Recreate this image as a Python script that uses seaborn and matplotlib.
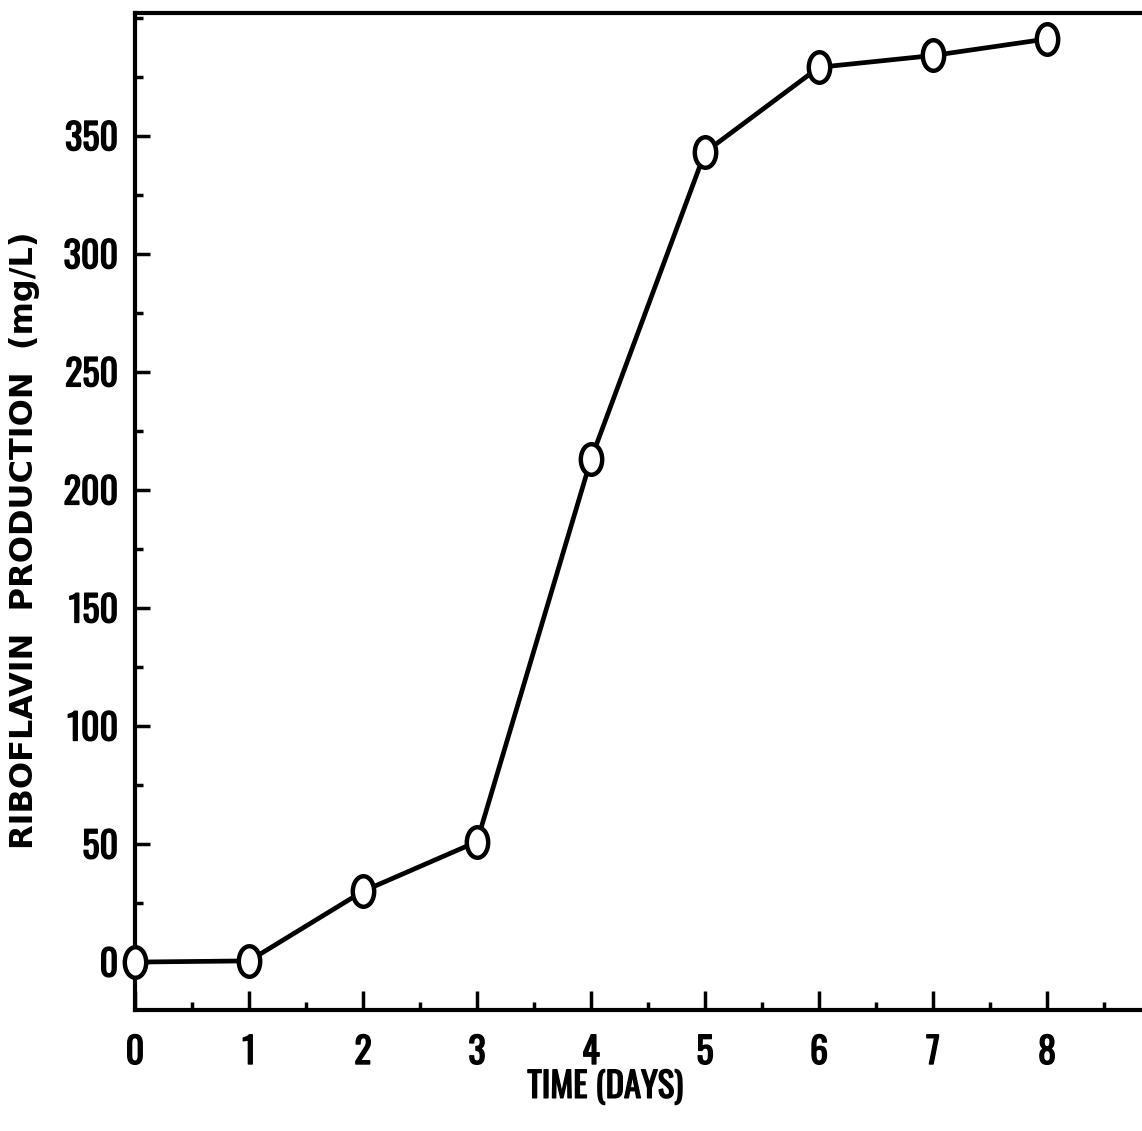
import numpy as np
import pandas as pd
import seaborn as sns
import matplotlib
matplotlib.use("Agg")
import matplotlib.pyplot as plt
import matplotlib.patheffects as pe
from matplotlib.path import Path
from matplotlib.ticker import MultipleLocator
import matplotlib.font_manager as fm

days = [0, 1, 2, 3, 4, 5, 6, 7, 8]
riboflavin = [0, 0.5, 30, 51, 213, 343, 379, 384, 391]
x_ticks = [0, 1, 2, 3, 4, 5, 6, 7, 8]
y_ticks = [0, 50, 100, 150, 200, 250, 300, 350]
x_label = "TIME (DAYS)"
y_label = "RIBOFLAVIN  PRODUCTION  (mg/L)"

sns.set_theme(style="white")
names = {f.name for f in fm.fontManager.ttflist}
narrow = "DejaVu Sans"
for cand in ["Oswald", "Roboto Condensed", "Archivo Narrow", "PT Sans Narrow",
             "Liberation Sans Narrow", "Barlow Condensed", "Fjalla One"]:
    if cand in names:
        narrow = cand
        break
plt.rcParams["font.family"] = ["DejaVu Sans"]

bold_fx = [pe.withStroke(linewidth=1.0, foreground="black")]

df = pd.DataFrame({"day": days, "value": riboflavin})

fig = plt.figure(figsize=(11.42, 11.31), dpi=100)
ax = fig.add_axes([135 / 1142, 1 - 1010 / 1131, 1007 / 1142, 997 / 1131])

# vertically elongated ellipse marker
circ = Path.unit_circle()
ell = Path(circ.vertices * np.array([0.7, 1.0]), circ.codes)

sns.lineplot(data=df, x="day", y="value", ax=ax, color="black", linewidth=3.4,
             marker=ell, markersize=22, markerfacecolor="white",
             markeredgecolor="black", markeredgewidth=3.2, clip_on=False,
             zorder=5)

ax.set_xlim(0, 1007 / 114)
ax.set_ylim(-20.3, 402)

ax.set_xticks(x_ticks)
ax.set_yticks(y_ticks)
ax.xaxis.set_minor_locator(MultipleLocator(0.5))
ax.yaxis.set_minor_locator(MultipleLocator(25))

for s in ["left", "bottom", "top"]:
    ax.spines[s].set_visible(True)
    ax.spines[s].set_linewidth(3.0)
    ax.spines[s].set_color("black")
ax.spines["right"].set_visible(False)

ax.tick_params(axis="both", which="major", direction="in", length=11, width=2.5,
               color="black", bottom=True, left=True, top=False, right=False)
ax.tick_params(axis="both", which="minor", direction="in", length=6, width=2.5,
               color="black", bottom=True, left=True, top=False, right=False)
ax.tick_params(axis="x", which="major", length=14, pad=18)
ax.tick_params(axis="y", which="major", pad=12)
for lab in ax.get_xticklabels() + ax.get_yticklabels():
    lab.set_fontfamily(narrow)
    lab.set_fontweight("bold")
    lab.set_fontsize(26)
    lab.set_color("black")
    lab.set_path_effects(bold_fx)

ax.set_xlabel(x_label, fontdict=dict(family=narrow, weight="bold", size=25), color="black")
ax.xaxis.label.set_path_effects(bold_fx)
ax.set_ylabel(y_label, fontdict=dict(family="DejaVu Sans", weight="bold", size=23), color="black")
ax.xaxis.set_label_coords(0.467, -0.06)
ax.yaxis.set_label_coords(-0.094, 0.471)
ax.grid(False)

fig.savefig("out.png", dpi=100, facecolor="white")
